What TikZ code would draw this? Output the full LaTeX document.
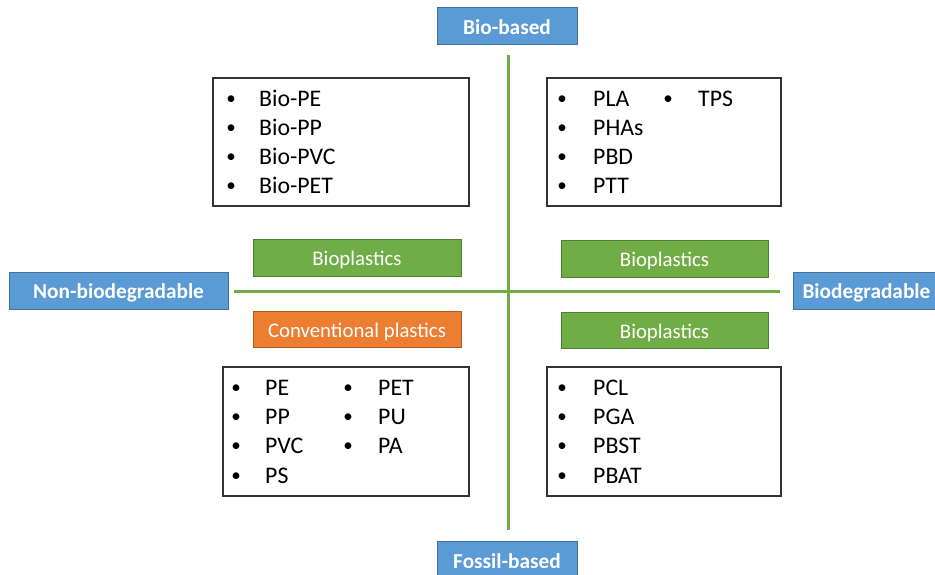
\documentclass[tikz,border=0pt]{standalone}
\usepackage{fontspec}
\setmainfont{Carlito}
\definecolor{axisblue}{HTML}{5B9BD5}
\definecolor{axisblueline}{HTML}{41719C}
\definecolor{bgreen}{HTML}{70AD47}
\definecolor{bgreenline}{HTML}{507E32}
\definecolor{corange}{HTML}{ED7D31}
\definecolor{corangeline}{HTML}{AE5A21}
\tikzset{
  axisbox/.style={draw=axisblueline, fill=axisblue, line width=1pt, text=white,
    font=\fontsize{21.3}{24}\selectfont\bfseries, inner sep=0pt, text height=18pt, text depth=2pt},
  catbox/.style={line width=1pt, text=white, font=\fontsize{20.8}{24}\selectfont, inner sep=0pt,
    text height=18pt, text depth=2pt},
  greenbox/.style={catbox, draw=bgreenline, fill=bgreen},
  orangebox/.style={catbox, draw=corangeline, fill=corange},
  listbox/.style={draw=black!80, line width=1.2pt, inner sep=0pt},
  itemtxt/.style={anchor=west, inner sep=0pt, font=\fontsize{23.8}{26}\selectfont, text height=16pt, text depth=3pt},
  bul/.style={anchor=center, inner sep=0pt, font=\fontsize{19}{22}\selectfont},
  axisline/.style={draw=bgreen, line width=3pt}
}
\newcommand\bitem[5]{% name, bullet x, text x, y, text
  \node[bul] (#1b) at (#2,#4) {\textbullet};
  \node[itemtxt] (#1) at (#3,#4) {#5};
}
\begin{document}
\begin{tikzpicture}[x=1pt,y=-1pt]
\useasboundingbox (0,0) rectangle (935,575);
% axes
\coordinate (vtop) at (508,55);
\coordinate (vbot) at (508,530);
\coordinate (hleft) at (234,291);
\coordinate (hright) at (780,291);
\draw[axisline] (vtop) -- (vbot);
\draw[axisline] (hleft) -- (hright);
% axis boxes
\node[axisbox, minimum width=140pt, minimum height=37pt] (bio) at (507,26.5) {Bio-based};
\node[axisbox, minimum width=140pt, minimum height=37pt] (fossil) at (507,560) {Fossil-based};
\node[axisbox, minimum width=219pt, minimum height=37pt] (nonbio) at (118.5,290.5) {Non-biodegradable};
\node[axisbox, minimum width=147pt, minimum height=37pt, text width=142pt, align=left] (biodeg) at (866.5,290.5) {\hspace*{7pt}Biodegradable};
% category boxes
\node[greenbox, minimum width=208pt, minimum height=37pt] (bpl1) at (357,257.5) {Bioplastics};
\node[orangebox, minimum width=208pt, minimum height=36pt] (conv) at (357,329) {Conventional plastics};
\node[greenbox, minimum width=207pt, minimum height=37pt] (bpl2) at (664.5,258.5) {Bioplastics};
\node[greenbox, minimum width=207pt, minimum height=36pt] (bpl3) at (664.5,330) {Bioplastics};
% list boxes
\node[listbox, minimum width=256pt, minimum height=128pt] (tl) at (341,142) {};
\node[listbox, minimum width=234pt, minimum height=128pt] (tr) at (664,142) {};
\node[listbox, minimum width=246pt, minimum height=129pt] (bl) at (346,431.5) {};
\node[listbox, minimum width=234pt, minimum height=129pt] (br) at (664,431.5) {};
% top-left items
\bitem{tla}{231}{259}{100}{Bio-PE}
\bitem{tlb}{231}{259}{129}{Bio-PP}
\bitem{tlc}{231}{259}{158}{Bio-PVC}
\bitem{tld}{231}{259}{187}{Bio-PET}
% top-right items
\bitem{tra}{562}{593}{100}{PLA}
\bitem{trb}{562}{593}{129}{PHAs}
\bitem{trc}{562}{593}{158}{PBD}
\bitem{trd}{562}{593}{187}{PTT}
\bitem{tre}{668}{698}{100}{TPS}
% bottom-left items
\bitem{bla}{236}{265}{389}{PE}
\bitem{blb}{236}{265}{418}{PP}
\bitem{blc}{236}{265}{447}{PVC}
\bitem{bld}{236}{265}{477}{PS}
\bitem{ble}{348}{378}{389}{PET}
\bitem{blf}{348}{378}{418}{PU}
\bitem{blg}{348}{378}{447}{PA}
% bottom-right items
\bitem{bra}{562}{593}{389}{PCL}
\bitem{brb}{562}{593}{418}{PGA}
\bitem{brc}{562}{593}{447}{PBST}
\bitem{brd}{562}{593}{477}{PBAT}
\end{tikzpicture}
\end{document}
